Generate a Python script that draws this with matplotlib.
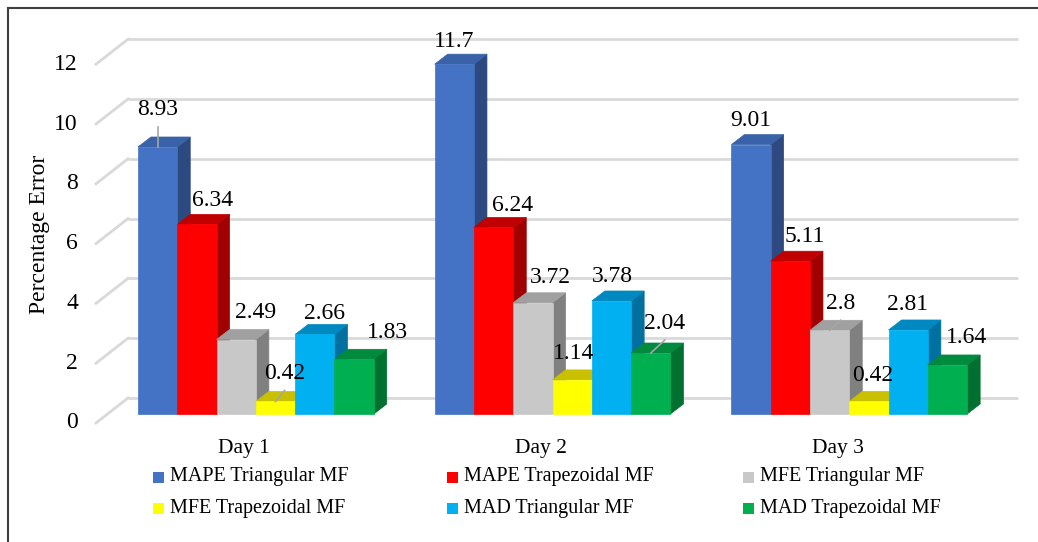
import numpy as np
import matplotlib.pyplot as plt
from matplotlib.patches import Polygon, Rectangle
from matplotlib.lines import Line2D

# data
days = ['Day 1', 'Day 2', 'Day 3']
series = ['MAPE Triangular MF', 'MAPE Trapezoidal MF', 'MFE Triangular MF',
          'MFE Trapezoidal MF', 'MAD Triangular MF', 'MAD Trapezoidal MF']
mape_tri = [8.93, 11.7, 9.01]
mape_trap = [6.34, 6.24, 5.11]
mfe_tri = [2.49, 3.72, 2.8]
mfe_trap = [0.42, 1.14, 0.42]
mad_tri = [2.66, 3.78, 2.81]
mad_trap = [1.83, 2.04, 1.64]
yticks = [0, 2, 4, 6, 8, 10, 12]

values = [mape_tri, mape_trap, mfe_tri, mfe_trap, mad_tri, mad_trap]

# (front, top, side) colours for each series
colors = [('#4472C4', '#3A62A8', '#2C4A80'),
          ('#FF0000', '#C00000', '#A00000'),
          ('#C8C8C8', '#A0A0A0', '#808080'),
          ('#FFFF00', '#C8C000', '#A0A000'),
          ('#00B0F0', '#0088C0', '#0070A0'),
          ('#00B050', '#008A3E', '#007030')]

# label nudges in pixels (dx, dy above the bar top), per day / series
lab_dx = [[0, 16, 19, 9, 10, 33], [0, 19, 17, 1, 1, 14], [0, 14, 11, 4, -1, 19]]
lab_dy = [[37, 24, 27, 28, 21, 27], [23, 22, 25, 26, 24, 30], [24, 25, 27, 26, 25, 27]]
leaders = [(0, 0), (0, 3), (1, 5), (2, 2)]

plt.rcParams['font.family'] = ['Liberation Serif', 'DejaVu Serif']

W, H = 1038, 542
PX_X, PX_Y = 296.7, 29.9     # pixels per category / per unit
X0, Y0 = 107.5, 414          # pixel of (0, 0) on the bar front plane

fig = plt.figure(figsize=(W / 100, H / 100), dpi=100)
ax = fig.add_axes([0, 0, 1, 1])
ax.axis('off')
ax.set_xlim(-X0 / PX_X, (W - X0) / PX_X)
ax.set_ylim(-(H - Y0) / PX_Y, Y0 / PX_Y)


def off(dx, dy):
    return dx / PX_X, -dy / PX_Y


bar_d = off(13, -10)
wall_d = off(20.5, -16)
front_d = off(-11.5, 9)
bw = 39.3 / PX_X

# gridlines: back wall + side wall diagonals
for v in yticks:
    ax.plot([wall_d[0], len(days) + wall_d[0]], [v + wall_d[1]] * 2,
            color='#D9D9D9', lw=2, zorder=1, solid_capstyle='butt')
    ax.plot([front_d[0], wall_d[0]], [v + front_d[1], v + wall_d[1]],
            color='#D9D9D9', lw=2, zorder=1)
    ax.text(front_d[0] - 18 / PX_X, v + front_d[1], str(v), ha='right', va='center',
            fontsize=17)

for i, day in enumerate(days):
    left = i + 0.5 - 3 * bw
    for j in range(len(series)):
        v = values[j][i]
        x0 = left + j * bw
        fc, tc, sc = colors[j]
        dx, dy = bar_d
        side = Polygon([(x0 + bw, 0), (x0 + bw + dx, dy), (x0 + bw + dx, v + dy), (x0 + bw, v)],
                       closed=True, fc=sc, ec=sc, lw=0.5, zorder=3)
        top = Polygon([(x0, v), (x0 + bw, v), (x0 + bw + dx, v + dy), (x0 + dx, v + dy)],
                      closed=True, fc=tc, ec=tc, lw=0.5, zorder=3)
        front = Rectangle((x0, 0), bw, v, fc=fc, ec=fc, lw=0.5, zorder=3)
        ax.add_patch(side)
        ax.add_patch(top)
        ax.add_patch(front)

        lx = x0 + bw / 2 + lab_dx[i][j] / PX_X
        ly = v + lab_dy[i][j] / PX_Y
        ax.text(lx, ly, str(v), ha='center', va='center', fontsize=17, zorder=5)
        if (i, j) in leaders:
            ax.plot([x0 + bw / 2, lx], [v, ly - 17 / PX_Y], color='#A6A6A6', lw=1.2, zorder=4)

    ax.text(i + 0.5 + front_d[0], -(448 - Y0) / PX_Y, day, ha='center', va='center',
            fontsize=15.5)

ax.text(-(X0 - 40) / PX_X, 6, 'Percentage Error', rotation=90, ha='center', va='center',
        fontsize=17)

# legend, 3 columns x 2 rows
col_x = [158, 452, 748]
row_y = [477, 508]
for k, name in enumerate(series):
    cx, cy = col_x[k % 3], row_y[k // 3]
    fig.patches.append(Rectangle(((cx - 5.5) / W, 1 - (cy + 5.5) / H), 11 / W, 11 / H,
                                 transform=fig.transFigure, fc=colors[k][0], ec='none'))
    fig.text((cx + 12) / W, 1 - cy / H, name, ha='left', va='center', fontsize=14.5)

# outer frame (left and top edges visible)
fig.lines.append(Line2D([7.5 / W, 7.5 / W], [0, 1 - 8 / H], transform=fig.transFigure,
                        color='#404040', lw=1.5))
fig.lines.append(Line2D([7.5 / W, 1], [1 - 8 / H, 1 - 8 / H], transform=fig.transFigure,
                        color='#404040', lw=1.5))

fig.savefig('out.png', dpi=100)
